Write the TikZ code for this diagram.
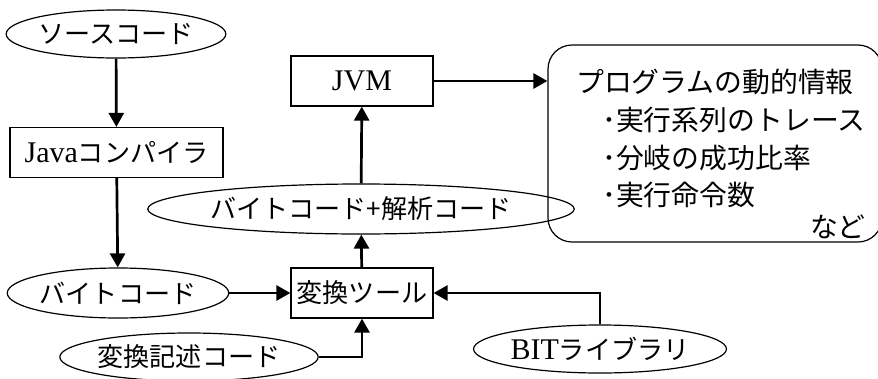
\documentclass[tikz,border=0pt]{standalone}
\usepackage{fontspec}
\setmainfont{Liberation Serif}
\newfontfamily\jp[Scale=0.87]{Noto Sans CJK JP}
\usetikzlibrary{arrows.meta,shapes.geometric}

\tikzset{
  box/.style={draw,line width=1.2pt,minimum height=50pt,inner sep=0pt,font=\fontsize{30}{34}\selectfont},
  oval/.style={draw,ellipse,line width=1.2pt,minimum height=48pt,inner sep=0pt,font=\fontsize{30}{34}\selectfont},
  flow/.style={line width=2.7pt,-{Triangle[length=14pt,width=15pt]}},
  info/.style={font=\fontsize{32}{36}\selectfont,inner sep=0pt}
}

\begin{document}
\begin{tikzpicture}[x=1pt,y=-1pt]
\useasboundingbox (0,0) rectangle (878,378);

% source side
\node[oval,minimum width=192pt] (src) at (116,34) {\jp ソースコード};
\node[box,minimum width=213pt] (javac) at (116.5,152.5) {Java{\jp コンパイラ}};
\node[oval,minimum width=189pt,minimum height=50pt] (bc) at (118,293) {\jp バイトコード};
\node[oval,minimum width=228pt] (desc) at (189,357) {\jp 変換記述コード};

% tool and VM
\node[box,minimum width=142pt] (tool) at (362,293) {\jp 変換ツール};
\node[oval,minimum width=353pt,minimum height=50pt] (bca) at (361,209) {\jp バイトコード+解析コード};
\node[box,minimum width=142pt] (jvm) at (362,81) {JVM};
\node[oval,minimum width=231pt] (bit) at (600,349) {BIT{\jp ライブラリ}};

% result box
\node[draw,line width=1.2pt,rounded corners=24pt,minimum width=334pt,minimum height=197pt] (res) at (715,143.5) {};
\node[info,anchor=west] (r0) at (576,82) {\jp プログラムの動的情報};
\node[info,anchor=west] (r1) at (602,120) {\jp ･実行系列のトレース};
\node[info,anchor=west] (r2) at (602,158) {\jp ･分岐の成功比率};
\node[info,anchor=west] (r3) at (602,195) {\jp ･実行命令数};
\node[info,anchor=east] (r4) at (866,227) {\jp など};

\draw[flow] (src) -- (javac);
\draw[flow] (javac) -- (bc);
\draw[flow] (bc) -- (tool);
\draw[flow] (desc.east) -| (tool.south);
\draw[flow] (bit.north) |- (tool.east);
\draw[flow] (tool) -- (bca);
\draw[flow] (bca) -- (jvm);
\draw[flow] (jvm) -- (jvm -| res.west);
\end{tikzpicture}
\end{document}
